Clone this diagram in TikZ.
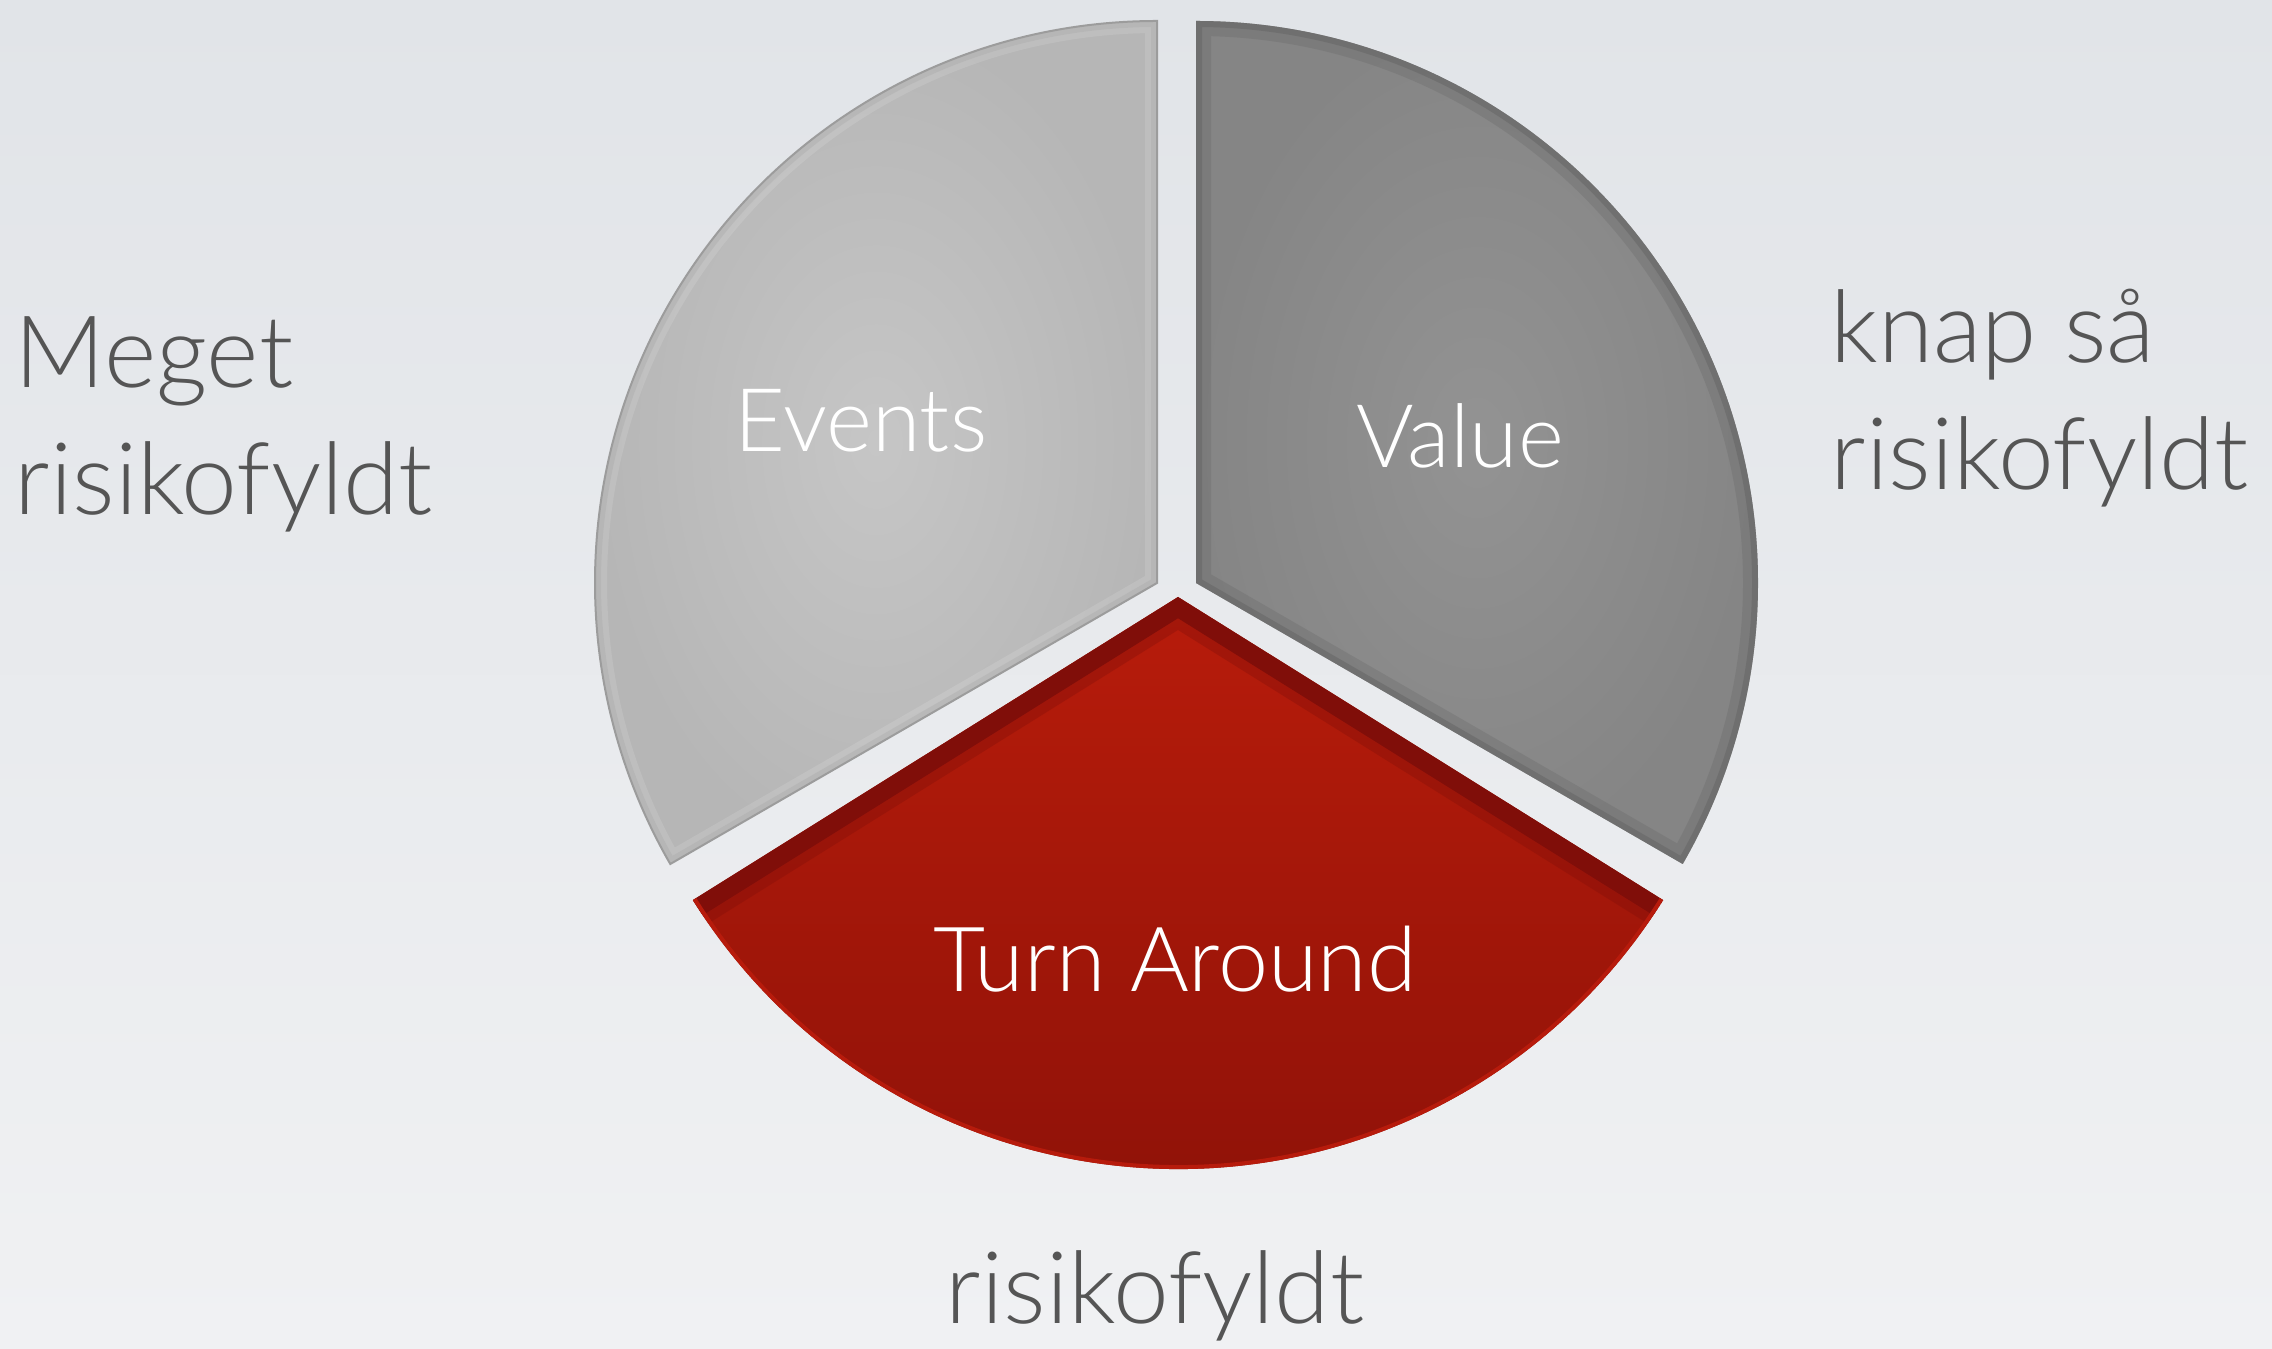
\documentclass[tikz,border=0pt]{standalone}
\usepackage{fontspec}
\setmainfont{Lato}[UprightFont={* Light}]
\usepackage{xcolor}
\usepackage{tikz}
\usetikzlibrary{positioning,calc}

\definecolor{bgtop}{HTML}{E1E4E8}
\definecolor{bgbot}{HTML}{F0F1F3}
\definecolor{txtgray}{HTML}{555555}
\definecolor{evlight}{HTML}{C6C6C6}
\definecolor{evdark}{HTML}{B6B6B6}
\definecolor{evrim}{HTML}{9C9C9C}
\definecolor{valight}{HTML}{939393}
\definecolor{vadark}{HTML}{858585}
\definecolor{varim}{HTML}{666666}
\definecolor{tatop}{HTML}{B81C0B}
\definecolor{tabot}{HTML}{8C1108}
\definecolor{tabevel}{HTML}{800E09}
\definecolor{tarim}{HTML}{B71B0C}

% slice outlines
\newcommand{\eventspath}{(ev) -- ++(90:5.62) arc[start angle=90, end angle=210, radius=5.62] -- cycle}
\newcommand{\valuepath}{(va) -- ++(90:5.62) arc[start angle=90, end angle=-30, radius=5.62] -- cycle}
\newcommand{\turnpath}{(ta) -- ++(212:5.72) arc[start angle=212, end angle=328, radius=5.72] -- cycle}

\begin{document}
\begin{tikzpicture}
    \tikzstyle{outer} = [text=txtgray, font=\fontsize{28.5}{36}\selectfont, align=left, inner sep=0pt]
    \tikzstyle{inner} = [text=white, font=\fontsize{25}{30}\selectfont, inner sep=0pt]

    % Background
    \shade [top color=bgtop, bottom color=bgbot] (0,0) rectangle (22.72,13.48);
    \useasboundingbox (0,0) rectangle (22.72,13.48);

    % Slice tips
    \coordinate (ev) at (11.57,7.65);
    \coordinate (va) at (11.96,7.65);
    \coordinate (ta) at (11.78,7.51);

    % Events
    \shade [inner color=evlight, outer color=evdark] \eventspath;
    \begin{scope}
        \clip \eventspath;
        \draw [evrim, line width=1.2mm, opacity=0.35] \eventspath;
        \draw [white, line width=2.4mm, opacity=0.12] \eventspath;
    \end{scope}
    \draw [evrim, line width=0.2mm] \eventspath;

    % Value
    \shade [inner color=valight, outer color=vadark] \valuepath;
    \begin{scope}
        \clip \valuepath;
        \draw [varim, line width=3mm, opacity=0.3] \valuepath;
        \draw [varim, line width=1.2mm, opacity=0.55] \valuepath;
    \end{scope}

    % Turn Around
    \shade [top color=tatop, bottom color=tabot] \turnpath;
    \begin{scope}
        \clip \turnpath;
        \draw [tabevel, line width=3.6mm] ($(ta)+(212:5.72)$) -- (ta) -- ($(ta)+(328:5.72)$);
        \draw [tabevel, line width=5.6mm, opacity=0.35] ($(ta)+(212:5.72)$) -- (ta) -- ($(ta)+(328:5.72)$);
        \draw [tarim, line width=0.8mm] ($(ta)+(212:5.72)$) arc[start angle=212, end angle=328, radius=5.72];
    \end{scope}

    % Slice labels
    \node [inner, anchor=base] (events) at (8.61,8.96) {Events};
    \node [inner, anchor=base] (value) at (14.60,8.80) {Value};
    \node [inner, anchor=base, font=\fontsize{25.6}{30}\selectfont] (turn) at (11.75,3.56) {Turn Around};

    % Risk labels
    \node [outer, anchor=base west] (meget) at (0.14,9.60) {Meget};
    \node [outer, anchor=base west] (megetrisk) at (0.14,8.33) {risikofyldt};
    \node [outer, anchor=base west] (knap) at (18.30,9.85) {knap så};
    \node [outer, anchor=base west] (knaprisk) at (18.30,8.58) {risikofyldt};
    \node [outer, anchor=base] (risk) at (11.55,0.25) {risikofyldt};
\end{tikzpicture}
\end{document}
